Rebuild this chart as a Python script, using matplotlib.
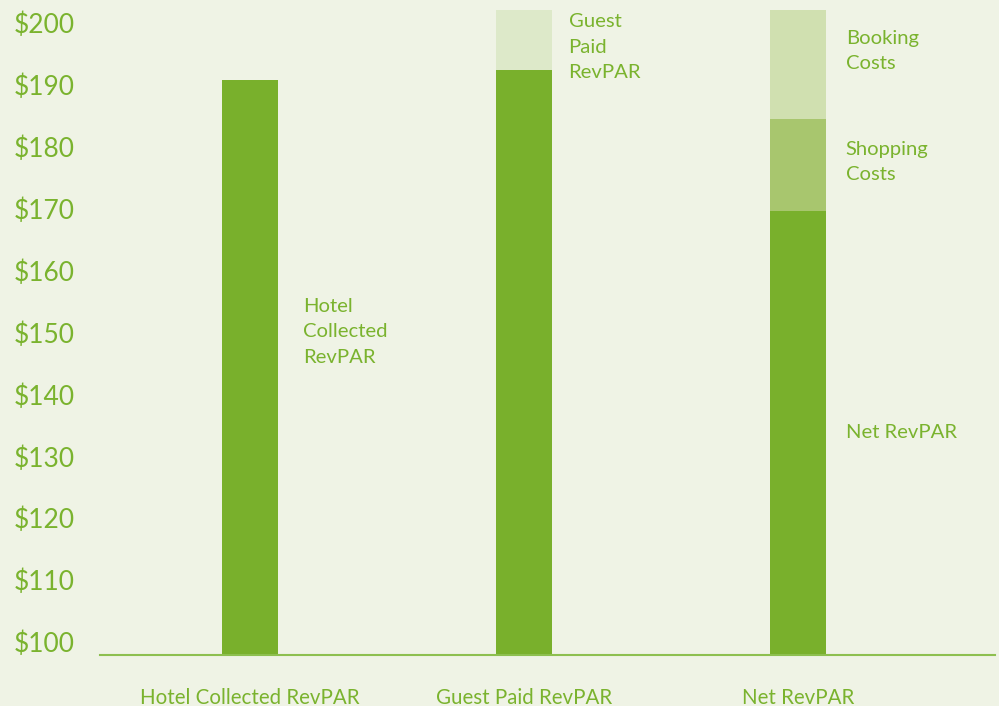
import matplotlib
matplotlib.use("Agg")
import matplotlib.pyplot as plt

# data
categories = ["Hotel Collected RevPAR", "Guest Paid RevPAR", "Net RevPAR"]
base_values = [190.8, 192.4, 169.6]      # dark green bars
guest_paid_top = 202.1                   # light segment on Guest Paid bar
shopping_top = 184.5                     # Net RevPAR: shopping costs segment top
booking_top = 202.1                      # Net RevPAR: booking costs segment top
yticks = list(range(100, 201, 10))
ytick_labels = ["$" + str(v) for v in yticks]

bg = "#EFF3E5"
dark = "#79B02C"
light = "#DDE9C9"
shop_col = "#A8C66E"
book_col = "#D0E0B0"
txt = "#7AB32E"

plt.rcParams["font.family"] = ["Lato", "DejaVu Sans"]

fig = plt.figure(figsize=(9.99, 7.06), dpi=100, facecolor=bg)
ax = fig.add_axes([100 / 999, (706 - 654.5) / 706, 895 / 999, 654.5 / 706])
ax.set_facecolor(bg)

x = [0, 1, 2]
w = 0.205
ax.bar(x, base_values, width=w, color=dark, zorder=2)
ax.bar(1, guest_paid_top - base_values[1], bottom=base_values[1], width=w, color=light, zorder=2)
ax.bar(2, shopping_top - base_values[2], bottom=base_values[2], width=w, color=shop_col, zorder=2)
ax.bar(2, booking_top - shopping_top, bottom=shopping_top, width=w, color=book_col, zorder=2)

ax.set_xlim(-0.548, 2.72)
ax.set_ylim(97.98, 203.7)

ax.set_yticks(yticks)
ax.set_yticklabels(ytick_labels, fontsize=19, color=txt)
ax.set_xticks(x)
ax.set_xticklabels(categories, fontsize=14.8, color=txt)
ax.tick_params(axis="y", length=0, pad=18)
ax.tick_params(axis="x", length=0, pad=24)

for s in ["top", "right", "left"]:
    ax.spines[s].set_visible(False)
ax.spines["bottom"].set_color("#8DBF4F")
ax.spines["bottom"].set_linewidth(1.5)

# segment labels
fs = 14.6
ls = 1.6
ax.text(0.195, 150.1, "Hotel\nCollected\nRevPAR", fontsize=fs, color=txt, va="center", ha="left", linespacing=ls)
ax.text(1.163, 196.1, "Guest\nPaid\nRevPAR", fontsize=fs, color=txt, va="center", ha="left", linespacing=ls)
ax.text(2.175, 195.5, "Booking\nCosts", fontsize=fs, color=txt, va="center", ha="left", linespacing=ls)
ax.text(2.175, 177.5, "Shopping\nCosts", fontsize=fs, color=txt, va="center", ha="left", linespacing=ls)
ax.text(2.175, 133.9, "Net RevPAR", fontsize=fs, color=txt, va="center", ha="left")

fig.savefig("out.png", dpi=100, facecolor=bg)
